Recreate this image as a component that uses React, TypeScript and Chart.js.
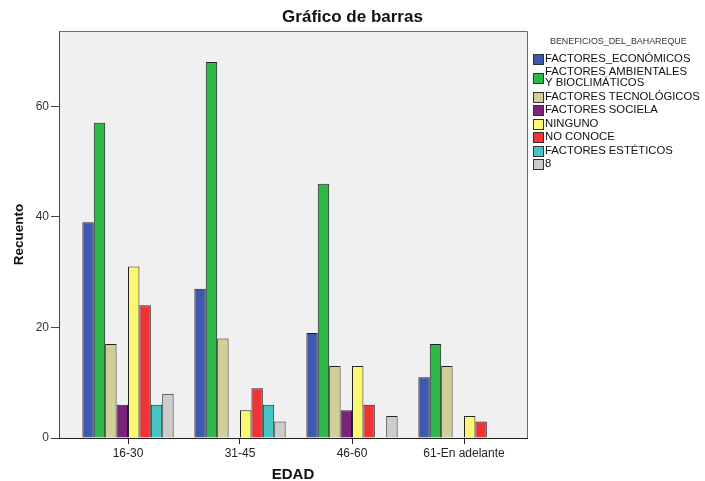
import React, { useEffect, useRef } from "react";
import { Chart, registerables } from "chart.js";

Chart.register(...registerables);

const chartTitle = "Gráfico de barras";
const xTitle = "EDAD";
const yTitle = "Recuento";
const legendTitle = "BENEFICIOS_DEL_BAHAREQUE";

const categories = ["16-30", "31-45", "46-60", "61-En adelante"];
const seriesLabels = [
  "FACTORES_ECONÓMICOS",
  "FACTORES AMBIENTALES\nY BIOCLIMÁTICOS",
  "FACTORES TECNOLÓGICOS",
  "FACTORES SOCIELA",
  "NINGUNO",
  "NO CONOCE",
  "FACTORES ESTÉTICOS",
  "8",
];

const economicos = [39, 27, 19, 11];
const ambientales = [57, 68, 46, 17];
const tecnologicos = [17, 18, 13, 13];
const sociela = [6, null, 5, null];
const ninguno = [31, 5, 13, 4];
const noConoce = [24, 9, 6, 3];
const esteticos = [6, 6, null, null];
const ocho = [8, 3, 4, null];

const yTicks = [0, 20, 40, 60];
const yMax = 73.6;

const seriesValues = [economicos, ambientales, tecnologicos, sociela, ninguno, noConoce, esteticos, ocho];
const seriesColors = ["#3e58ac", "#2eb848", "#d3ce97", "#7a2479", "#fbf873", "#ef3338", "#48c2c5", "#cccccc"];

const FONT = "'Liberation Sans', Arial, sans-serif";

const bgPlugin = {
  id: "plotBg",
  beforeDraw(chart: any) {
    const { ctx, chartArea: a } = chart;
    ctx.save();
    ctx.fillStyle = "#f0f0f0";
    ctx.fillRect(a.left, a.top, a.right - a.left, a.bottom - a.top);
    ctx.restore();
  },
  afterDatasetsDraw(chart: any) {
    const { ctx, chartArea: a } = chart;
    ctx.save();
    ctx.lineWidth = 1;
    ctx.strokeStyle = "#6a6a6a";
    ctx.beginPath();
    ctx.moveTo(a.left, a.top + 0.5);
    ctx.lineTo(a.right + 0.5, a.top + 0.5);
    ctx.lineTo(a.right + 0.5, a.bottom);
    ctx.stroke();
    ctx.strokeStyle = "#222";
    ctx.beginPath();
    ctx.moveTo(a.left, a.bottom + 0.5);
    ctx.lineTo(a.right + 0.5, a.bottom + 0.5);
    ctx.stroke();
    ctx.restore();
  },
};

const legendPlugin = {
  id: "sideLegend",
  afterDraw(chart: any) {
    const { ctx, chartArea: a } = chart;
    const x0 = a.right + 6;
    ctx.save();
    ctx.textBaseline = "middle";
    ctx.textAlign = "left";
    ctx.fillStyle = "#333";
    ctx.font = `8.9px ${FONT}`;
    ctx.fillText(legendTitle, x0 + 17, 42);
    ctx.font = `11.3px ${FONT}`;
    let y = 58.5;
    chart.data.datasets.forEach((ds: any) => {
      const lines = String(ds.label).split("\n");
      const first = y;
      const last = y + (lines.length - 1) * 11.3;
      const mid = (first + last) / 2;
      ctx.fillStyle = ds.backgroundColor;
      ctx.fillRect(x0, Math.round(mid - 5), 10, 10);
      ctx.strokeStyle = "#333";
      ctx.lineWidth = 1;
      ctx.strokeRect(x0 + 0.5, Math.round(mid - 5) + 0.5, 10, 10);
      ctx.fillStyle = "#111";
      lines.forEach((ln: string, i: number) => {
        ctx.fillText(ln, x0 + 12, first + i * 11.3);
      });
      y = last + 13.5;
    });
    ctx.restore();
  },
};

export default function App() {
  const ref = useRef<HTMLCanvasElement | null>(null);

  useEffect(() => {
    if (!ref.current) return;
    Chart.defaults.font.family = FONT;
    const chart = new Chart(ref.current, {
      type: "bar",
      data: {
        labels: categories,
        datasets: seriesLabels.map((label, i) => ({
          label,
          data: seriesValues[i],
          backgroundColor: seriesColors[i],
          borderColor: "#222",
          borderWidth: 1,
          categoryPercentage: 0.815,
          barPercentage: 1,
        })),
      },
      options: {
        responsive: false,
        animation: false,
        devicePixelRatio: 1,
        layout: { padding: 0 },
        plugins: {
          legend: { display: false },
          tooltip: { enabled: false },
          title: {
            display: true,
            text: chartTitle,
            color: "#111",
            font: { size: 17, weight: "bold", family: FONT, lineHeight: 1.2 },
            padding: { top: 7, bottom: 3.6 },
          },
        },
        scales: {
          x: {
            offset: true,
            afterFit: (s: any) => {
              s.height = 43;
            },
            afterBuildTicks: (s: any) => {
              s._startValue = -69 / 112;
              s._valueRange = 468 / 112;
            },
            grid: { display: true, drawOnChartArea: false, offset: false, tickLength: 6, color: "#222" },
            border: { display: true, color: "#222", width: 1 },
            ticks: { color: "#222", font: { size: 12, family: FONT }, padding: 2, maxRotation: 0 },
            title: {
              display: true,
              text: xTitle,
              color: "#111",
              font: { size: 15, weight: "bold", family: FONT, lineHeight: 1 },
              padding: { top: 0, bottom: -1 },
            },
          },
          y: {
            min: 0,
            max: yMax,
            afterFit: (s: any) => {
              s.width = 59;
            },
            afterBuildTicks: (s: any) => {
              s.ticks = yTicks.map((v) => ({ value: v }));
            },
            grid: { display: true, drawOnChartArea: false, tickLength: 8, color: "#444" },
            border: { display: true, color: "#444", width: 1 },
            ticks: { color: "#333", font: { size: 12, family: FONT }, padding: 2 },
            title: {
              display: true,
              text: yTitle,
              color: "#111",
              font: { size: 13.5, weight: "bold", family: FONT, lineHeight: 1.2 },
              padding: { top: 11, bottom: 0 },
            },
          },
          side: {
            type: "linear",
            position: "right",
            display: true,
            afterFit: (s: any) => {
              s.width = 178;
            },
            grid: { display: false },
            border: { display: false },
            ticks: { display: false },
          },
        },
      } as any,
      plugins: [bgPlugin, legendPlugin],
    });
    return () => chart.destroy();
  }, []);

  return (
    <div style={{ position: "absolute", left: 0, top: 0, width: 705, height: 481, background: "#fff" }}>
      <canvas ref={ref} width={705} height={481} style={{ display: "block" }} />
    </div>
  );
}
